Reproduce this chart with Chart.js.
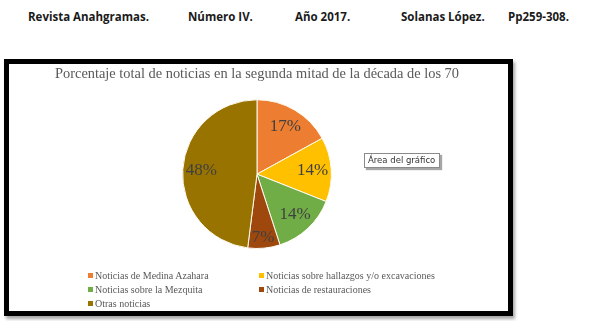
<!DOCTYPE html>
<html>
<head>
<meta charset="utf-8">
<script src="https://cdn.jsdelivr.net/npm/chart.js@4.4.1/dist/chart.umd.min.js"></script>
<style>
  html, body { margin: 0; padding: 0; background: #fff; }
  body { width: 591px; height: 321px; position: relative; overflow: hidden; }
  .hdr { position: absolute; top: 9px; font-family: "Open Sans", sans-serif; font-weight: bold; font-size: 11.5px; color: #1a1a1a; white-space: nowrap; }
  #box { position: absolute; left: 4px; top: 59px; width: 509px; height: 257px; box-sizing: border-box; border: 5px solid #000; background: #fff; box-shadow: 2px 3px 3px rgba(0,0,0,0.35); }
  #cv { position: absolute; left: 9px; top: 64px; }
  .leg { position: absolute; font-family: "Liberation Serif", "Times New Roman", serif; font-size: 10px; color: #595959; white-space: nowrap; line-height: 12px; }
  .leg i { display: inline-block; width: 5px; height: 5px; margin-right: 2px; vertical-align: 1px; }
  #tip { position: absolute; left: 364px; top: 153px; width: 76px; height: 15px; box-sizing: border-box; border: 1px solid #8a8a8a; background: #fff; box-shadow: 2px 2px 1px rgba(0,0,0,0.35); font-family: "DejaVu Sans", sans-serif; font-size: 8.5px; color: #333; line-height: 13px; padding-left: 3px; white-space: nowrap; }
</style>
</head>
<body>
<div class="hdr" style="left:28px">Revista Anahgramas.</div>
<div class="hdr" style="left:188px">Número IV.</div>
<div class="hdr" style="left:295px">Año 2017.</div>
<div class="hdr" style="left:401px">Solanas López.</div>
<div class="hdr" style="left:508px">Pp259-308.</div>
<div id="box"></div>
<canvas id="cv" width="499" height="247"></canvas>
<div id="legend"></div>
<div id="tip">Área del gráfico</div>
<script>
const title = "Porcentaje total de noticias en la segunda mitad de la década de los 70";
const categories = [
  "Noticias de Medina Azahara",
  "Noticias sobre hallazgos y/o excavaciones",
  "Noticias sobre la Mezquita",
  "Noticias de restauraciones",
  "Otras noticias"
];
const values = [17, 14, 14, 7, 48];
const colors = ["#ED7D31", "#FFC000", "#70AD47", "#9E480E", "#997300"];

// legend (HTML, grid of two columns)
const legend = document.getElementById('legend');
categories.forEach((c, i) => {
  const d = document.createElement('div');
  d.className = 'leg';
  const col = i % 2, row = Math.floor(i / 2);
  d.style.left = (col === 0 ? 88 : 259) + 'px';
  d.style.top = (270 + row * 14) + 'px';
  d.innerHTML = '<i style="background:' + colors[i] + '"></i>' + c;
  legend.appendChild(d);
});

const labelPlugin = {
  id: 'sliceLabels',
  afterDatasetsDraw(chart) {
    const ctx = chart.ctx;
    const meta = chart.getDatasetMeta(0);
    ctx.save();
    ctx.font = '17px "Liberation Serif", "Times New Roman", serif';
    ctx.fillStyle = '#404040';
    ctx.textAlign = 'center';
    ctx.textBaseline = 'middle';
    meta.data.forEach((arc, i) => {
      const p = arc.getProps(['x', 'y', 'startAngle', 'endAngle', 'outerRadius'], true);
      const a = (p.startAngle + p.endAngle) / 2;
      const frac = values[i] < 10 ? 0.86 : 0.75;
      const r = p.outerRadius * frac;
      ctx.fillText(values[i] + '%', p.x + Math.cos(a) * r, p.y + Math.sin(a) * r);
    });
    ctx.restore();
  }
};

new Chart(document.getElementById('cv'), {
  type: 'pie',
  data: {
    labels: categories,
    datasets: [{
      data: values,
      backgroundColor: colors,
      borderColor: '#fdfbf0',
      borderWidth: 1
    }]
  },
  options: {
    responsive: false,
    animation: false,
    layout: { padding: { left: 0, right: 3, top: 0, bottom: 62 } },
    plugins: {
      legend: { display: false },
      tooltip: { enabled: false },
      title: {
        display: true,
        text: title,
        color: '#595959',
        font: { family: '"Liberation Serif", "Times New Roman", serif', size: 14.4, weight: 'normal' },
        padding: { top: 2, bottom: 16 }
      }
    }
  },
  plugins: [labelPlugin]
});
</script>
</body>
</html>
